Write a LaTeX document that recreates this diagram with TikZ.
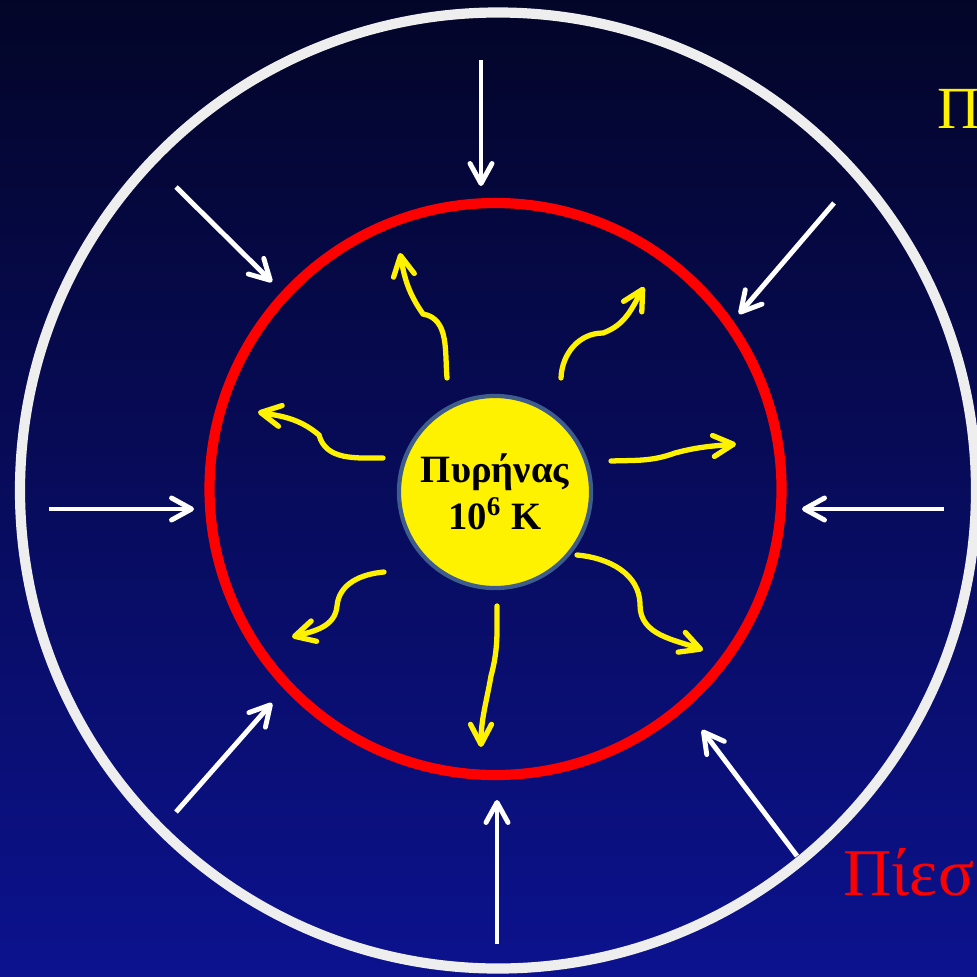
\documentclass[tikz,border=0pt]{standalone}
\usepackage{fontspec}
\setmainfont{Liberation Serif}
\usetikzlibrary{arrows.meta}
\definecolor{skytop}{RGB}{3,5,40}
\definecolor{skybot}{RGB}{12,18,142}
\definecolor{corerim}{RGB}{62,92,140}
\definecolor{shellwhite}{RGB}{238,238,238}

\begin{document}
\begin{tikzpicture}[
  x=0.01cm, y=0.01cm,
  shell/.style={line width=2.9pt},
  core/.style={circle, fill=yellow, draw=corerim, line width=1.2pt, minimum size=1.92cm,
               inner sep=0pt, align=center, font=\bfseries\fontsize{11}{13.4}\selectfont},
  push/.style={white, line width=1.4pt, -{Straight Barb[length=2mm, width=2.2mm, round]}},
  glow/.style={yellow, line width=1.5pt, line cap=round, -{Straight Barb[length=2mm, width=2.1mm, round]}},
  side/.style={anchor=base west, inner sep=0pt},
]
\useasboundingbox (0,0) rectangle (977,-976);
\shade[top color=skytop, bottom color=skybot] (0,0) rectangle (977,-976);
\clip (0,0) rectangle (977,-976);
% outer and inner shells
\draw[shell, shellwhite] (498,-490.5) circle (478);
\draw[shell, red] (495.5,-489) circle (286);
% the core
\node[core] (core) at (495,-492) {Πυρήνας\\10\textsuperscript{6} K};
% inward pressure
\foreach \sx/\sy/\ex/\ey in {481/60/481/186, 176/187/272/282, 834/203/739/314,
    49/509/194/509, 944/509/802/509, 176/812/272/703, 497/944/497/800, 797/856/702/730}
  \draw[push] (\sx,-\sy) -- (\ex,-\ey);
% outward radiation
\draw[glow] (447,-378) to[out=95,in=-10] (423,-314) to[out=125,in=-80] (400,-253);
\draw[glow] (561,-378) to[out=88,in=180] (603,-333) to[out=20,in=240] (644,-287);
\draw[glow] (383,-458) to[out=180,in=-75] (319,-435) to[out=140,in=-10] (258,-412);
\draw[glow] (611,-461) to[out=2,in=200] (675,-453) to[out=15,in=185] (736,-444);
\draw[glow] (384,-572) to[out=185,in=85] (337,-606) to[out=-95,in=15] (292,-637);
\draw[glow] (497,-606) to[out=-90,in=75] (491,-676) to[out=-100,in=90] (481,-747);
\draw[glow] (577,-555) to[out=-5,in=90] (640,-605) to[out=-90,in=160] (703,-650);
% side labels
\node[side, yellow, font=\fontsize{17}{20}\selectfont] (toplabel) at (937,-128) {Π};
\node[side, red, font=\fontsize{19}{22}\selectfont] (pressure) at (843,-895) {Πίεσ};
\end{tikzpicture}
\end{document}
